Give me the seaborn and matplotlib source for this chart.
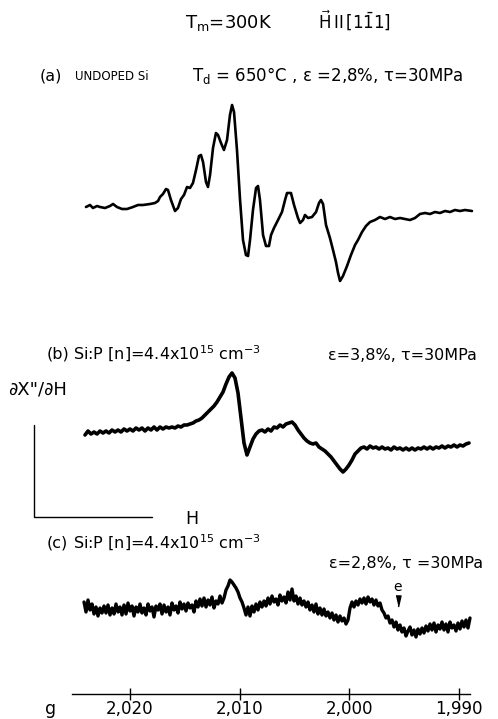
import numpy as np
import pandas as pd
import matplotlib
matplotlib.use("Agg")
import matplotlib.pyplot as plt
from matplotlib.lines import Line2D
import seaborn as sns

# ---------------- data ----------------
# trace (a): undoped Si, g-values and signal (arb. units, up = positive)
G_A = [2.02402, 2.02365, 2.02338, 2.02301, 2.02274, 2.02228, 2.02183, 2.02155, 2.02119, 2.02073,
       2.02027, 2.01973, 2.01927, 2.01881, 2.01817, 2.01772, 2.01744, 2.01726, 2.01699, 2.01671,
       2.01653, 2.01626, 2.01589, 2.01562, 2.01534, 2.01507, 2.01479, 2.01452, 2.01425, 2.01397,
       2.01370, 2.01352, 2.01333, 2.01306, 2.01288, 2.01269, 2.01242, 2.01215, 2.01196, 2.01169,
       2.01142, 2.01114, 2.01087, 2.01068, 2.01050, 2.01023, 2.00995, 2.00968, 2.00941, 2.00922,
       2.00904, 2.00877, 2.00849, 2.00831, 2.00813, 2.00785, 2.00758, 2.00731, 2.00712, 2.00685,
       2.00648, 2.00612, 2.00584, 2.00566, 2.00530, 2.00502, 2.00466, 2.00447, 2.00420, 2.00402,
       2.00374, 2.00338, 2.00301, 2.00274, 2.00256, 2.00237, 2.00210, 2.00174, 2.00146, 2.00119,
       2.00100, 2.00082, 2.00055, 2.00018, 1.99982, 1.99945, 1.99918, 1.99881, 1.99845, 1.99808,
       1.99763, 1.99717, 1.99671, 1.99626, 1.99580, 1.99534, 1.99489, 1.99443, 1.99397, 1.99352,
       1.99306, 1.99260, 1.99215, 1.99169, 1.99123, 1.99078, 1.99032, 1.98986, 1.98941, 1.98877]
SIG_A = [0, 2, -1, 1, 0, -1, 1, 3, 0, -2,
         -2, 0, 2, 2, 3, 4, 6, 10, 13, 18,
         17, 7, -4, -1, 8, 12, 20, 19, 24, 37,
         51, 52, 45, 25, 20, 32, 59, 74, 72, 64,
         57, 67, 92, 102, 95, 57, 7, -33, -48, -49,
         -33, -3, 19, 21, 7, -28, -39, -39, -28, -21,
         -13, -5, 7, 14, 14, 2, -11, -16, -13, -8,
         -11, -10, -5, 4, 7, 3, -18, -31, -43, -55,
         -66, -74, -69, -59, -48, -38, -33, -25, -19, -15,
         -13, -10, -12, -10, -12, -11, -12, -13, -11, -7,
         -6, -7, -5, -6, -4, -5, -3, -4, -3, -4]

# trace (b): Si:P, eps = 3.8 %, evenly sampled in field
G_B_START, G_B_END = 2.02411, 1.98904
SIG_B = [-2, 2, -1, 1, -1, 2, 0, 2, 0, 3,
         1, 3, 1, 4, 2, 4, 2, 5, 3, 5,
         2, 5, 3, 6, 3, 6, 4, 6, 5, 6,
         5, 7, 6, 8, 8, 9, 10, 12, 13, 15,
         18, 21, 24, 27, 31, 36, 41, 49, 56, 60,
         55, 40, 15, -10, -22, -14, -6, -1, 2, 3,
         1, 4, 2, 6, 5, 8, 6, 9, 10, 11,
         8, 3, -1, -5, -8, -10, -11, -10, -14, -16,
         -18, -21, -24, -28, -32, -36, -39, -36, -32, -27,
         -21, -18, -15, -14, -16, -13, -15, -14, -16, -14,
         -16, -15, -17, -14, -16, -15, -17, -15, -17, -15,
         -17, -15, -16, -14, -16, -14, -16, -14, -15, -13,
         -15, -13, -14, -12, -14, -12, -13, -11, -10]

# trace (c): Si:P, eps = 2.8 %, evenly sampled in field (noisy)
G_C_START, G_C_END = 2.02420, 1.98895
SIG_C = [8, -2, 10, 0, 6, -4, 3, -6, 2, -3,
         4, -3, 5, -5, 2, -4, 6, -2, 3, -5,
         5, -4, 7, -1, 4, -6, 3, -2, 6, -3,
         2, -5, 6, -1, 3, -7, 4, 0, 6, -4,
         5, -2, 3, -5, 7, 0, 4, -3, 8, 1,
         6, -1, 7, 2, 5, -2, 9, 3, 11, 4,
         12, 3, 10, 5, 13, 2, 9, 6, 14, 7,
         12, 20, 24, 30, 28, 25, 22, 18, 12, 8,
         2, -5, 3, -6, 4, -2, 6, 0, 8, 3,
         9, 4, 12, 6, 14, 8, 11, 5, 15, 9,
         13, 7, 18, 10, 21, 9, 14, 6, 12, 5,
         9, 3, 8, 0, 5, -2, 6, -4, 2, -5,
         1, -6, -2, -8, -3, -10, -5, -12, -6, -11,
         -8, -14, -10, 2, 8, 3, 9, 5, 11, 7,
         12, 6, 13, 8, 11, 5, 10, 4, 7, 0,
         -3, -8, -6, -13, -10, -17, -12, -20, -15, -22,
         -18, -26, -21, -17, -25, -20, -27, -19, -24, -18,
         -23, -16, -21, -14, -20, -13, -22, -15, -19, -12,
         -20, -14, -22, -12, -18, -15, -21, -13, -19, -11,
         -17, -10, -18, -8]

G_TICKS = [2.020, 2.010, 2.000, 1.990]
G_TICK_LABELS = ["2,020", "2,010", "2,000", "1,990"]
G_AXIS_SPAN = (2.02530, 1.98895)
G_MARK_E = 1.99553

# ---------------- figure ----------------
sns.set_theme(style="white")
plt.rcParams['font.family'] = ['DejaVu Sans']
plt.rcParams['mathtext.fontset'] = 'dejavusans'

W, H = 498, 719
fig = plt.figure(figsize=(W / 100, H / 100), dpi=100)
AXB = 694
ax = fig.add_axes([0, (H - AXB) / H, 1, AXB / H])
ax.set_xlim(2.031872, 1.986393)
ax.set_ylim(AXB, 0)

BASE_A, BASE_B, BASE_C = 207, 433, 610

df_a = pd.DataFrame({"g": G_A, "y": BASE_A - np.array(SIG_A)})
df_b = pd.DataFrame({"g": np.linspace(G_B_START, G_B_END, len(SIG_B)),
                     "y": BASE_B - np.array(SIG_B)})
df_c = pd.DataFrame({"g": np.linspace(G_C_START, G_C_END, len(SIG_C)),
                     "y": BASE_C - np.array(SIG_C)})

sns.lineplot(data=df_a, x="g", y="y", ax=ax, color="black", lw=1.9,
             estimator=None, sort=False)
sns.lineplot(data=df_b, x="g", y="y", ax=ax, color="black", lw=2.6,
             estimator=None, sort=False)
sns.lineplot(data=df_c, x="g", y="y", ax=ax, color="black", lw=2.4,
             estimator=None, sort=False)

for s in ["top", "left", "right"]:
    ax.spines[s].set_visible(False)
ax.spines["bottom"].set_bounds(*G_AXIS_SPAN)
ax.spines["bottom"].set_color("black")
ax.spines["bottom"].set_linewidth(1.0)
ax.set_yticks([])
ax.set_xticks(G_TICKS)
ax.set_xticklabels(G_TICK_LABELS)
ax.tick_params(axis="x", direction="inout", length=8, width=1.0, pad=0,
               labelsize=12, colors="black", bottom=True)
ax.set_xlabel("")
ax.set_ylabel("")
ax.set_facecolor("white")
ax.patch.set_alpha(0)


def T(x, y, s, size, ha="left", va="center", **kw):
    fig.text(x / W, 1 - y / H, s, fontsize=size, ha=ha, va=va, color="black", **kw)


# title
T(185, 23, r"T$_\mathrm{m}$=300K", 13)
T(318, 21, r"$\vec{\mathrm{H}}\,$II$\,$[1$\bar{\mathrm{1}}$1]", 12)

# (a)
T(40, 76, "(a)", 11.5)
T(75, 77, "UNDOPED Si", 8.5)
T(192, 76, r"T$_\mathrm{d}$ = 650°C , ε =2,8%, τ=30MPa", 12)

# (b)
T(47, 354, "(b)", 11.5)
T(73, 354, r"Si:P [n]=4.4x10$^{15}$ cm$^{-3}$", 11.5)
T(477, 356, "ε=3,8%, τ=30MPa", 11.5, ha="right")

# axis unit labels
T(8, 390, "∂X\"/∂H", 13)
fig.add_artist(Line2D([34 / W, 34 / W, 152 / W], [1 - 425 / H, 1 - 517 / H, 1 - 517 / H],
                      color="black", lw=1.0))
T(185, 519, "H", 12.5)

# (c)
T(47, 543, "(c)", 11.5)
T(73, 543, r"Si:P [n]=4.4x10$^{15}$ cm$^{-3}$", 11.5)
T(483, 564, "ε=2,8%, τ =30MPa", 11.5, ha="right")

# e marker
ax.text(G_MARK_E, 587, "e", fontsize=10, ha="center", va="center", color="black")
ax.plot([G_MARK_E], [601], marker=[(-0.45, 1), (0.45, 1), (0, -1)], markersize=8,
        color="black", linestyle="none")

# g label
T(45, 709, "g", 12.5)

fig.savefig("out.png", dpi=100, facecolor="white")
